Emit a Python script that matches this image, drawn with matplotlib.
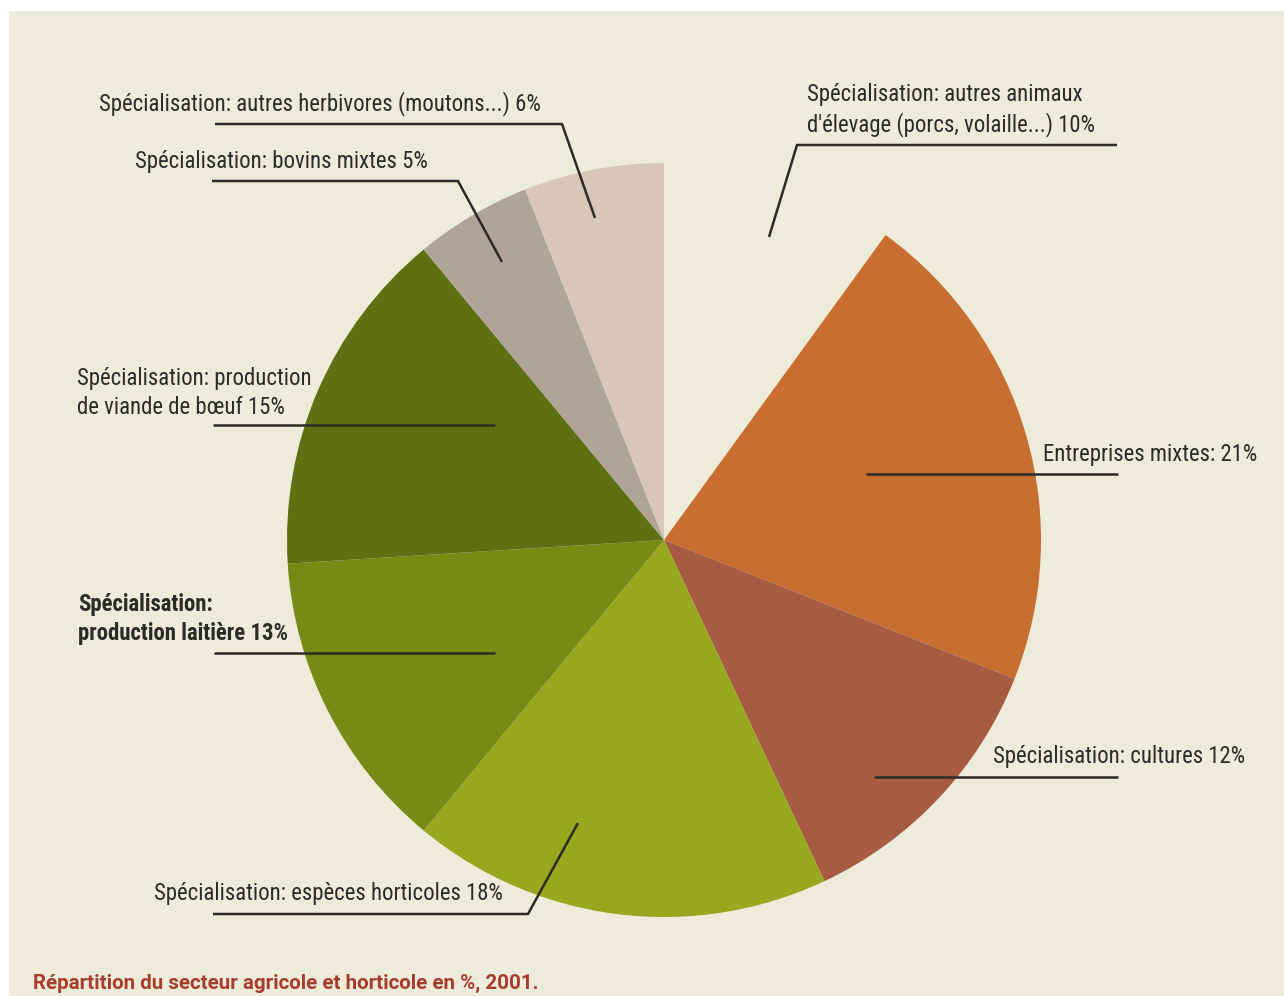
import matplotlib
matplotlib.use("Agg")
import matplotlib.pyplot as plt
from matplotlib.patches import Rectangle

# === données ===
labels = [
    "Spécialisation: autres animaux\nd'élevage (porcs, volaille...) 10%",
    "Entreprises mixtes: 21%",
    "Spécialisation: cultures 12%",
    "Spécialisation: espèces horticoles 18%",
    "Spécialisation:\nproduction laitière 13%",
    "Spécialisation: production\nde viande de bœuf 15%",
    "Spécialisation: bovins mixtes 5%",
    "Spécialisation: autres herbivores (moutons...) 6%",
]
values = [10, 21, 12, 18, 13, 15, 5, 6]
bg = "#EDEBD9"
colors = [bg, "#C76E30", "#A65B42", "#96A81D", "#778A16", "#5F7012", "#AEA598", "#D8C7B8"]
caption = "Répartition du secteur agricole et horticole en %, 2001."

W, H = 1284, 996
def Y(y):
    return H - y

# position des étiquettes (x, y centre, alignement, gras) en pixels image
label_pos = [
    (807, 110, "left", False),
    (1257, 454, "right", False),
    (993, 756, "left", False),
    (154, 893, "left", False),
    (78, 619, "left", True),
    (77, 393, "left", False),
    (135, 161, "left", False),
    (99, 104, "left", False),
]
# traits de rappel
leaders = [
    [(769, 237), (797, 145), (1117, 145)],
    [(866, 474), (1118, 474)],
    [(874, 777), (1118, 777)],
    [(213, 914), (528, 914), (578, 823)],
    [(214, 653), (495, 653)],
    [(213, 425), (495, 425)],
    [(212, 181), (458, 181), (502, 262)],
    [(215, 124), (562, 124), (595, 218)],
]

font = ["Roboto Condensed", "DejaVu Sans"]
plt.rcParams["font.family"] = font

fig = plt.figure(figsize=(W / 100, H / 100), dpi=100)
fig.patch.set_facecolor("white")
ax = fig.add_axes([0, 0, 1, 1])
ax.add_patch(Rectangle((9, 0), W - 9, H - 11, facecolor=bg, edgecolor="none", zorder=0))

ax.pie(values, colors=colors, startangle=90, counterclock=False,
       center=(664, Y(540)), radius=377, frame=True,
       wedgeprops=dict(linewidth=0, zorder=1))

for pts in leaders:
    xs = [p[0] for p in pts]
    ys = [Y(p[1]) for p in pts]
    ax.plot(xs, ys, color="#2B2B28", lw=1.8, solid_capstyle="butt", zorder=3)

for lab, (x, y, ha, bold) in zip(labels, label_pos):
    ax.text(x, Y(y), lab, ha=ha, va="center", fontsize=16.4, color="#2B2B28",
            fontstretch="condensed", fontweight="bold" if bold else "normal",
            linespacing=1.35, zorder=4)

ax.text(33, Y(983), caption, ha="left", va="center", fontsize=14.8, color="#A63C2E",
        fontweight="bold", family=["Roboto", "DejaVu Sans"])

ax.set_xlim(0, W)
ax.set_ylim(0, H)
ax.set_aspect("auto")
ax.axis("off")

fig.savefig("out.png", dpi=100, facecolor=fig.get_facecolor())
